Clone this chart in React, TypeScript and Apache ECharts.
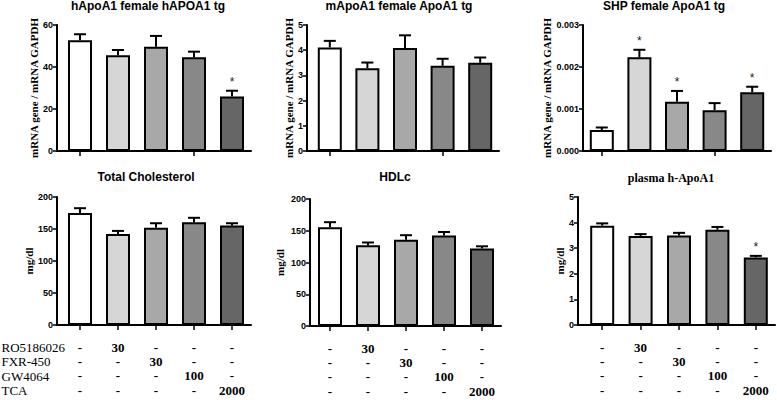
import React, { useEffect, useRef } from 'react';
import * as echarts from 'echarts';

const categories = ['Vehicle', 'RO5186026', 'FXR-450', 'GW4064', 'TCA'];
const barColors = ['#ffffff', '#d6d6d6', '#a8a8a8', '#888888', '#666666'];

// Panel data (mean, SEM upper whisker, significance star)
const hApoA1Mean = [52.7, 45.6, 49.7, 44.6, 25.9];
const hApoA1Err = [2.9, 2.5, 5.1, 2.7, 2.8];
const hApoA1Star = [0, 0, 0, 0, 1];

const mApoA1Mean = [4.11, 3.28, 4.09, 3.38, 3.5];
const mApoA1Err = [0.26, 0.23, 0.5, 0.28, 0.21];
const mApoA1Star = [0, 0, 0, 0, 0];

const shpMean = [0.0005, 0.00223, 0.00117, 0.00097, 0.0014];
const shpErr = [0.00006, 0.00018, 0.00026, 0.00017, 0.00013];
const shpStar = [0, 1, 1, 0, 1];

const tcMean = [175, 142, 152, 160.5, 155.5];
const tcErr = [7.5, 5, 7, 7, 3.5];
const tcStar = [0, 0, 0, 0, 0];

const hdlMean = [155.5, 127, 136, 142.5, 122];
const hdlErr = [8, 4.5, 7, 5.5, 3.5];
const hdlStar = [0, 0, 0, 0, 0];

const plasmaMean = [3.88, 3.48, 3.5, 3.72, 2.64];
const plasmaErr = [0.09, 0.07, 0.1, 0.11, 0.06];
const plasmaStar = [0, 0, 0, 0, 1];

// Treatment table
const rowLabels = ['RO5186026', 'FXR-450', 'GW4064', 'TCA'];
const doseRO = ['-', '30', '-', '-', '-'];
const doseFXR = ['-', '-', '30', '-', '-'];
const doseGW = ['-', '-', '-', '100', '-'];
const doseTCA = ['-', '-', '-', '-', '2000'];
const doseRows = [doseRO, doseFXR, doseGW, doseTCA];

const SANS = '"Liberation Sans", Arial, sans-serif';
const SERIF = '"Liberation Serif", "Times New Roman", serif';

type Panel = {
  title: string;
  titleFont: string;
  titleX: number;
  titleY: number;
  mean: number[];
  err: number[];
  star: number[];
  max: number;
  interval: number;
  decimals: number;
  yName: string;
  nameGap: number;
  left: number;
  top: number;
  width: number;
  height: number;
  yOffset: number;
  bottomRow: boolean;
};

const panels: Panel[] = [
  { title: 'hApoA1 female hAPOA1 tg', titleFont: `bold 12px ${SANS}`, titleX: 148, titleY: 0,
    mean: hApoA1Mean, err: hApoA1Err, star: hApoA1Star, max: 60, interval: 20, decimals: 0,
    yName: 'mRNA gene / mRNA GAPDH', nameGap: 15, left: 61, top: 25, width: 190, height: 126, yOffset: 4, bottomRow: false },
  { title: 'mApoA1 female ApoA1 tg', titleFont: `bold 12px ${SANS}`, titleX: 399, titleY: 0,
    mean: mApoA1Mean, err: mApoA1Err, star: mApoA1Star, max: 5, interval: 1, decimals: 0,
    yName: 'mRNA gene / mRNA GAPDH', nameGap: 10, left: 311, top: 25, width: 188, height: 126, yOffset: 4, bottomRow: false },
  { title: 'SHP female ApoA1 tg', titleFont: `bold 12px ${SANS}`, titleX: 664, titleY: 0,
    mean: shpMean, err: shpErr, star: shpStar, max: 0.003, interval: 0.001, decimals: 3,
    yName: 'mRNA gene / mRNA GAPDH', nameGap: 31, left: 583, top: 25, width: 188, height: 126, yOffset: 0, bottomRow: false },
  { title: 'Total Cholesterol', titleFont: `bold 12px ${SANS}`, titleX: 146, titleY: 171,
    mean: tcMean, err: tcErr, star: tcStar, max: 200, interval: 50, decimals: 0,
    yName: 'mg/dl', nameGap: 22, left: 61, top: 197, width: 190, height: 128, yOffset: 4, bottomRow: true },
  { title: 'HDLc', titleFont: `bold 12px ${SANS}`, titleX: 395, titleY: 171,
    mean: hdlMean, err: hdlErr, star: hdlStar, max: 200, interval: 50, decimals: 0,
    yName: 'mg/dl', nameGap: 25, left: 311, top: 199, width: 190, height: 127, yOffset: 1, bottomRow: true },
  { title: 'plasma h-ApoA1', titleFont: `bold 12px ${SERIF}`, titleX: 671, titleY: 172,
    mean: plasmaMean, err: plasmaErr, star: plasmaStar, max: 5, interval: 1, decimals: 0,
    yName: 'mg/dl', nameGap: 11, left: 583, top: 197, width: 192, height: 128, yOffset: 5, bottomRow: true },
];

function buildOption() {
  const grid: any[] = [];
  const xAxis: any[] = [];
  const yAxis: any[] = [];
  const series: any[] = [];
  const graphic: any[] = [];

  panels.forEach((p, k) => {
    grid.push({ left: p.left, top: p.top, width: p.width, height: p.height, containLabel: false });
    xAxis.push({
      type: 'category',
      gridIndex: k,
      data: categories,
      boundaryGap: true,
      axisLine: { show: true, lineStyle: { color: '#000', width: 2 } },
      axisTick: { show: true, alignWithLabel: true, length: 5, lineStyle: { color: '#000', width: 1.5 } },
      splitLine: { show: false },
      axisLabel: p.bottomRow
        ? {
            show: true,
            interval: 0,
            margin: 15,
            color: '#000',
            fontFamily: SERIF,
            fontWeight: 'bold',
            fontSize: 13,
            lineHeight: 14.3,
            formatter: (_v: string, idx: number) => doseRows.map((r) => r[idx]).join('\n'),
          }
        : { show: false },
    });
    yAxis.push({
      type: 'value',
      gridIndex: k,
      min: 0,
      max: p.max,
      interval: p.interval,
      offset: p.yOffset,
      name: p.yName,
      nameLocation: 'middle',
      nameGap: p.nameGap,
      nameTextStyle: { color: '#000', fontFamily: SERIF, fontWeight: 'bold', fontSize: 11 },
      axisLine: { show: true, lineStyle: { color: '#000', width: 2 } },
      axisTick: { show: true, length: 4, lineStyle: { color: '#000', width: 1.5 } },
      splitLine: { show: false },
      axisLabel: {
        color: '#000',
        fontFamily: SANS,
        fontWeight: 'bold',
        fontSize: 9,
        margin: 4,
        formatter: (v: number) => v.toFixed(p.decimals),
      },
    });
    series.push({
      type: 'bar',
      xAxisIndex: k,
      yAxisIndex: k,
      barWidth: 24,
      data: p.mean.map((v, i) => ({ value: v, itemStyle: { color: barColors[i] } })),
      itemStyle: { borderColor: '#000', borderWidth: 2 },
      z: 2,
    });
    series.push({
      type: 'custom',
      xAxisIndex: k,
      yAxisIndex: k,
      z: 3,
      encode: { x: 0, y: 1 },
      data: p.mean.map((v, i) => [i, v, p.err[i], p.star[i]]),
      renderItem: (_params: any, api: any) => {
        const i = api.value(0);
        const v = api.value(1);
        const e = api.value(2);
        const s = api.value(3);
        const p0 = api.coord([i, v]);
        const p1 = api.coord([i, v + e]);
        const half = 6;
        const children: any[] = [
          { type: 'line', shape: { x1: p0[0], y1: p0[1], x2: p1[0], y2: p1[1] }, style: { stroke: '#000', lineWidth: 2 } },
          { type: 'line', shape: { x1: p1[0] - half, y1: p1[1], x2: p1[0] + half, y2: p1[1] }, style: { stroke: '#000', lineWidth: 2 } },
        ];
        if (s) {
          children.push({
            type: 'text',
            x: p1[0],
            y: p1[1] - 3,
            style: { text: '*', fill: '#222', font: `12px ${SANS}`, align: 'center', verticalAlign: 'bottom' },
          });
        }
        return { type: 'group', children };
      },
    });
    graphic.push({
      type: 'text',
      x: p.titleX,
      y: p.titleY,
      style: { text: p.title, font: p.titleFont, fill: '#000', align: 'center', verticalAlign: 'top' },
    });
    if (p.yOffset > 0) {
      // join the offset y-axis line to the x-axis line (Prism-style corner)
      graphic.push({
        type: 'line',
        shape: { x1: p.left - p.yOffset - 1, y1: p.top + p.height, x2: p.left + 1, y2: p.top + p.height },
        style: { stroke: '#000', lineWidth: 2 },
        z: 10,
      });
    }
  });

  rowLabels.forEach((label, r) => {
    graphic.push({
      type: 'text',
      x: 1.5,
      y: 347.5 + r * 14.3,
      style: { text: label, font: `13px ${SERIF}`, fill: '#000', align: 'left', verticalAlign: 'middle' },
    });
  });

  return {
    animation: false,
    backgroundColor: '#ffffff',
    grid,
    xAxis,
    yAxis,
    series,
    graphic,
  };
}

export default function App() {
  const ref = useRef<HTMLDivElement>(null);
  useEffect(() => {
    if (!ref.current) return;
    const chart = echarts.init(ref.current, null, { renderer: 'svg' });
    chart.setOption(buildOption() as any);
    return () => chart.dispose();
  }, []);
  return (
    <div
      ref={ref}
      style={{ position: 'fixed', left: 0, top: 0, width: 777, height: 400, background: '#fff' }}
    />
  );
}
